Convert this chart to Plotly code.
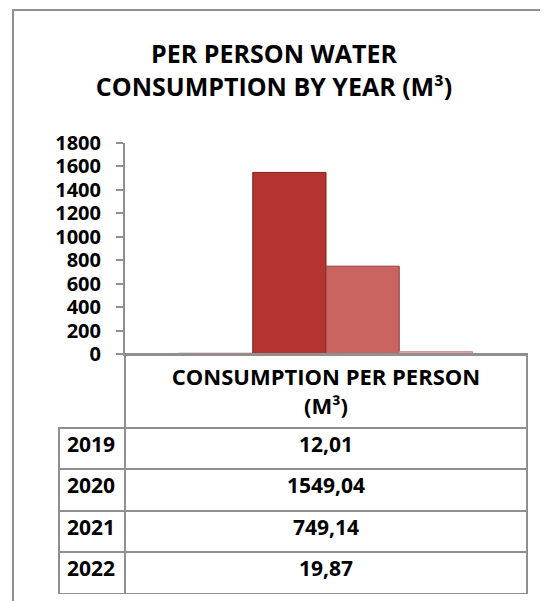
import plotly.graph_objects as go

W, H = 548, 601
OFF = 8  # page body margin in the browser

years = ["2019", "2020", "2021", "2022"]
consumption = [12.01, 1549.04, 749.14, 19.87]
category = "CONSUMPTION PER PERSON<br>(M³)"
bar_colors = ["#f3d6d5", "#b43431", "#c96461", "#e8a3a1"]
edge_colors = ["#f3d6d5", "#7d2220", "#8f4240", "#d08684"]
y_ticks = list(range(0, 1801, 200))

FONT = "Open Sans"
GRAY = "#8f8f8f"


# reference pixel -> paper fraction
def px_x(x):
    return (x - OFF) / W


def px_y(y):
    return (H - (y - OFF)) / H


fig = go.Figure()

for yr, val, col, edge in zip(years, consumption, bar_colors, edge_colors):
    fig.add_trace(go.Bar(
        x=[category], y=[val], name=yr,
        marker=dict(color=col, line=dict(color=edge, width=1)),
        hoverinfo="name+y"
    ))

# data table under the plot (header label comes from the x axis)
fig.add_trace(go.Table(
    domain=dict(x=[px_x(59), px_x(527)], y=[px_y(594), px_y(354)]),
    columnwidth=[66, 402],
    header=dict(
        values=["", ""],
        height=74,
        fill=dict(color="rgba(0,0,0,0)"),
        line=dict(color=["rgba(0,0,0,0)", GRAY], width=2),
    ),
    cells=dict(
        values=[years, [f"{v:.2f}".replace(".", ",") for v in consumption]],
        height=41.4,
        align=["left", "center"],
        fill=dict(color="white"),
        line=dict(color=GRAY, width=2),
        font=dict(family=FONT, size=21, color="black", weight="bold"),
    ),
))

fig.update_layout(
    width=W, height=H,
    margin=dict(l=0, r=0, t=0, b=0),
    paper_bgcolor="white", plot_bgcolor="white",
    showlegend=False,
    barmode="group", bargap=0.271, bargroupgap=0,
    title=dict(
        text="PER PERSON WATER<br>CONSUMPTION BY YEAR (M³)",
        x=px_x(274), xanchor="center", y=1 - 55 / H, yanchor="top",
        font=dict(family=FONT, size=25, color="black", weight="bold"),
    ),
    xaxis=dict(
        domain=[px_x(125), px_x(527)], automargin=False,
        showticklabels=True, ticks="", ticklabelstandoff=3,
        tickfont=dict(family=FONT, size=22, color="black", weight="bold"),
        showline=True, linecolor=GRAY, linewidth=2,
        showgrid=False, zeroline=False,
    ),
    yaxis=dict(
        domain=[px_y(354), px_y(143)], automargin=False,
        range=[0, 1800], tickvals=y_ticks,
        showline=True, linecolor=GRAY, linewidth=2,
        ticks="outside", ticklen=7, tickcolor=GRAY, tickwidth=2,
        ticklabelstandoff=11,
        showgrid=False, zeroline=False,
        tickfont=dict(family=FONT, size=20, color="black", weight="bold"),
    ),
    shapes=[dict(
        type="rect", xref="paper", yref="paper",
        x0=px_x(13), x1=1.1, y0=-0.1, y1=px_y(10),
        line=dict(color=GRAY, width=2), layer="below",
    )],
)

fig.write_html("out.html")
